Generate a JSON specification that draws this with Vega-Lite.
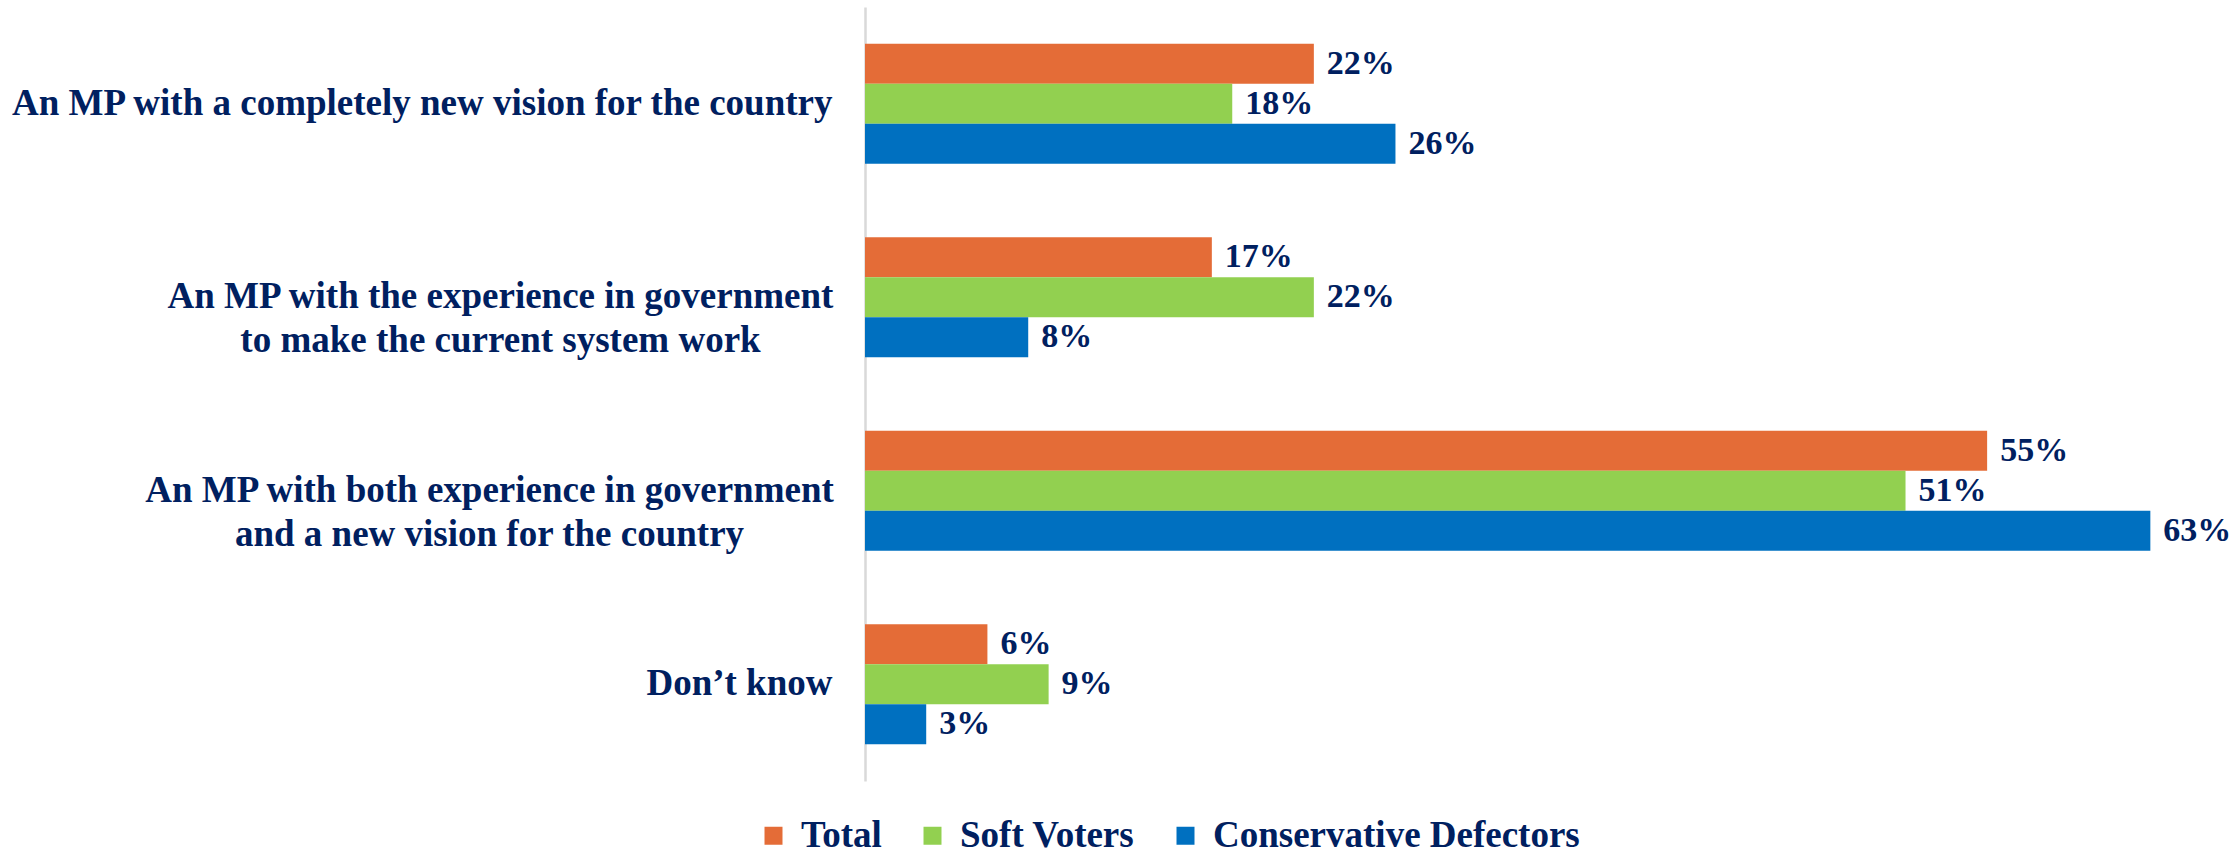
{
  "$schema": "https://vega.github.io/schema/vega-lite/v6.json",
  "autosize": {"type": "none"},
  "padding": {"left": 865, "top": 7, "right": 0, "bottom": 73},
  "width": 1369,
  "height": 774,
  "background": "white",
  "data": {
    "values": [
      {"option": "An MP with a completely new vision for the country", "group": "Total", "share": 0.22},
      {"option": "An MP with a completely new vision for the country", "group": "Soft Voters", "share": 0.18},
      {"option": "An MP with a completely new vision for the country", "group": "Conservative Defectors", "share": 0.26},
      {"option": "An MP with the experience in government to make the current system work", "group": "Total", "share": 0.17},
      {"option": "An MP with the experience in government to make the current system work", "group": "Soft Voters", "share": 0.22},
      {"option": "An MP with the experience in government to make the current system work", "group": "Conservative Defectors", "share": 0.08},
      {"option": "An MP with both experience in government and a new vision for the country", "group": "Total", "share": 0.55},
      {"option": "An MP with both experience in government and a new vision for the country", "group": "Soft Voters", "share": 0.51},
      {"option": "An MP with both experience in government and a new vision for the country", "group": "Conservative Defectors", "share": 0.63},
      {"option": "Don’t know", "group": "Total", "share": 0.06},
      {"option": "Don’t know", "group": "Soft Voters", "share": 0.09},
      {"option": "Don’t know", "group": "Conservative Defectors", "share": 0.03}
    ]
  },
  "encoding": {
    "y": {
      "field": "option",
      "type": "nominal",
      "sort": null,
      "scale": {"paddingInner": 0.38, "paddingOuter": 0.19},
      "axis": {
        "title": null,
        "ticks": false,
        "grid": false,
        "domain": true,
        "domainColor": "#D9D9D9",
        "domainWidth": 2.5,
        "labelPadding": {
          "condition": [
            {"test": "datum.value == 'An MP with the experience in government to make the current system work'", "value": 365},
            {"test": "datum.value == 'An MP with both experience in government and a new vision for the country'", "value": 376}
          ],
          "value": 33
        },
        "labelAlign": {
          "condition": {"test": "datum.value == 'An MP with the experience in government to make the current system work' || datum.value == 'An MP with both experience in government and a new vision for the country'", "value": "center"},
          "value": "right"
        },
        "labelFont": "Liberation Serif",
        "labelFontWeight": "bold",
        "labelFontSize": 37,
        "labelColor": "#002060",
        "labelLimit": 0,
        "labelLineHeight": 44,
        "labelBaseline": "middle",
        "labelExpr": "split(replace(replace(datum.label, ' to make', '\\nto make'), ' and a new', '\\nand a new'), '\\n')"
      }
    },
    "yOffset": {
      "field": "group",
      "type": "nominal",
      "sort": ["Total", "Soft Voters", "Conservative Defectors"],
      "scale": {"paddingInner": 0, "paddingOuter": 0}
    },
    "x": {
      "field": "share",
      "type": "quantitative",
      "scale": {"domain": [0, 0.671], "nice": false, "zero": true},
      "axis": null
    }
  },
  "layer": [
    {
      "mark": {"type": "bar", "cornerRadius": 0},
      "encoding": {
        "color": {
          "field": "group",
          "type": "nominal",
          "sort": ["Total", "Soft Voters", "Conservative Defectors"],
          "scale": {
            "domain": ["Total", "Soft Voters", "Conservative Defectors"],
            "range": ["#E46C37", "#92D050", "#0070C0"]
          },
          "legend": {
            "title": null,
            "orient": "none",
            "direction": "horizontal",
            "legendX": -110,
            "legendY": 810,
            "padding": 0,
            "symbolType": "square",
            "symbolSize": 324,
            "symbolStrokeWidth": 0,
            "labelFont": "Liberation Serif",
            "labelFontWeight": "bold",
            "labelFontSize": 37,
            "labelColor": "#002060",
            "labelOffset": 9,
            "columnPadding": 32,
            "labelLimit": 0
          }
        }
      }
    },
    {
      "mark": {
        "type": "text",
        "align": "left",
        "baseline": "middle",
        "dx": 13,
        "font": "Liberation Serif",
        "fontWeight": "bold",
        "fontSize": 34,
        "color": "#002060"
      },
      "encoding": {
        "text": {"field": "share", "type": "quantitative", "format": ".0%"}
      }
    }
  ],
  "config": {"view": {"stroke": null}}
}
